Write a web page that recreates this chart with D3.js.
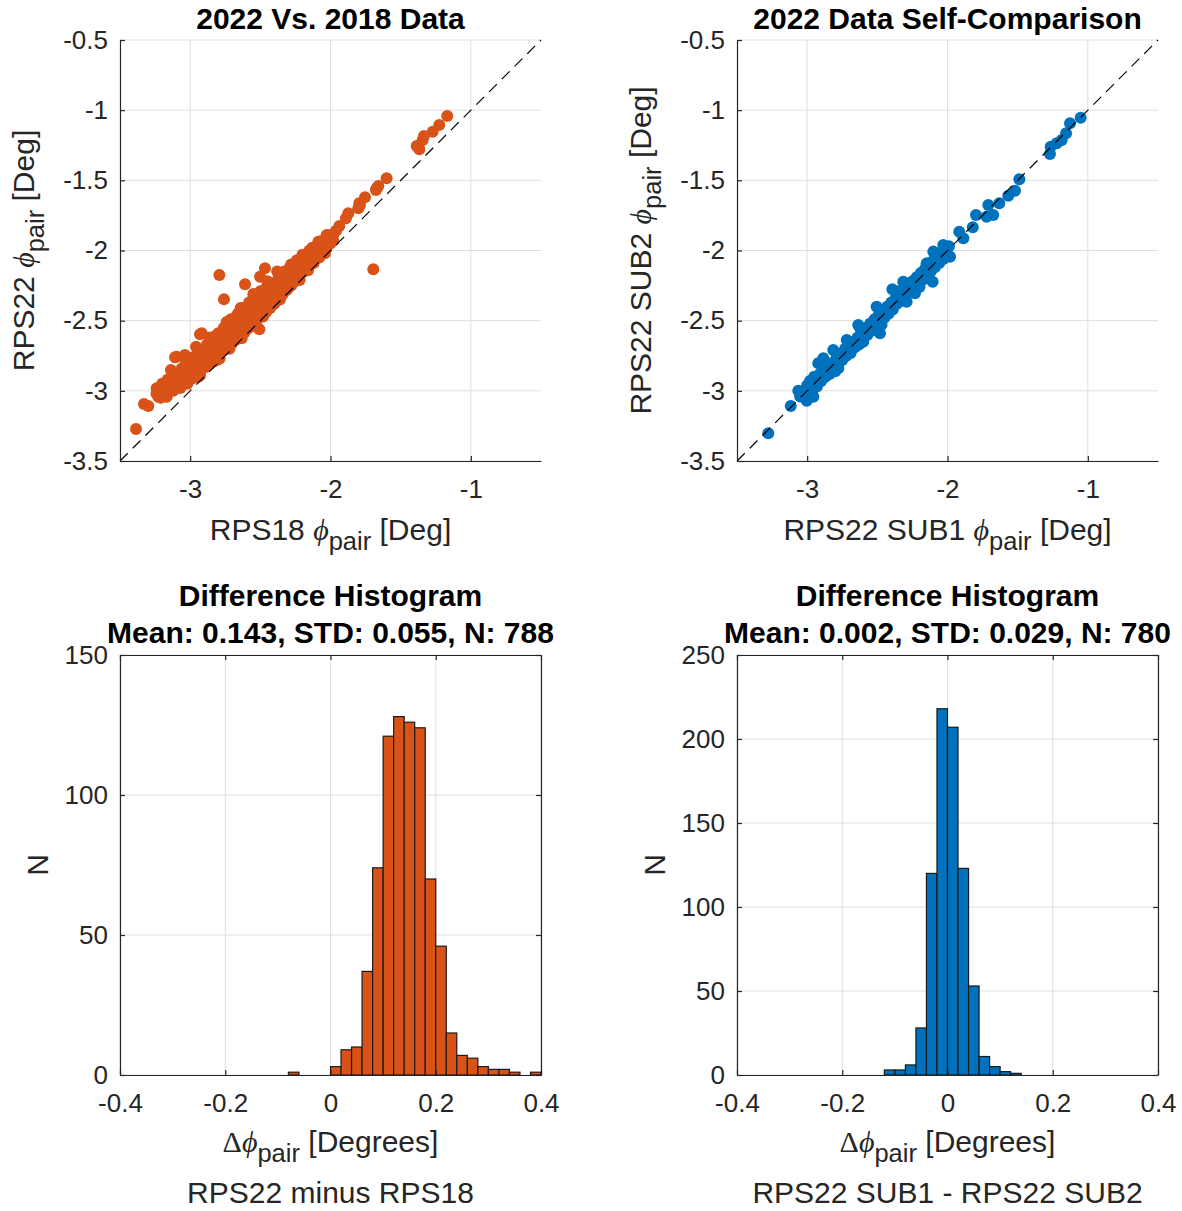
<!DOCTYPE html>
<html>
<head>
<meta charset="utf-8">
<script src="https://cdn.jsdelivr.net/npm/d3@7"></script>
<style>
  body { margin: 0; background: #fff; }
  svg text { font-family: "Liberation Sans", Arial, Helvetica, sans-serif; }
</style>
</head>
<body>
<svg id="fig" width="1182" height="1211"></svg>
<script>
// ---- data ----

// phase-angle axes (both scatter panels)
const phiDomain = [-3.5, -0.5];
const phiTicksX = [-3, -2, -1];
const phiTicksY = [-3.5, -3, -2.5, -2, -1.5, -1, -0.5];

// [RPS18 phi_pair, RPS22 phi_pair]
const rps18vs22 = [
  [-3.386,-3.272],[-3.329,-3.094],[-3.298,-3.108],[-3.239,-2.982],[-3.227,-3.042],[-3.167,-3.042],
  [-3.137,-2.852],[-3.108,-2.761],[-3.096,-2.757],[-3.049,-2.946],[-3.037,-2.745],[-2.958,-2.686],
  [-2.953,-2.899],[-2.942,-2.899],[-2.930,-2.597],[-2.918,-2.590],[-2.792,-2.175],[-2.759,-2.348],
  [-2.633,-2.626],[-2.609,-2.241],[-2.507,-2.562],[-2.467,-2.127],[-2.502,-2.187],
  [-3.24,-3.02],[-3.21,-3.05],[-3.19,-2.99],[-3.17,-3.04],[-3.15,-2.98],[-3.13,-2.93],[-3.12,-3.00],
  [-3.10,-2.96],[-3.08,-2.90],[-3.07,-2.98],[-3.05,-2.93],[-3.04,-2.87],[-3.02,-2.95],[-3.01,-2.84],
  [-3.00,-2.90],[-2.99,-2.86],[-2.97,-2.80],[-2.96,-2.88],[-2.95,-2.83],[-2.93,-2.77],[-2.92,-2.85],
  [-2.91,-2.80],[-2.90,-2.74],[-2.89,-2.83],[-2.88,-2.78],[-2.87,-2.72],[-2.86,-2.81],[-2.85,-2.76],
  [-2.84,-2.70],[-2.83,-2.79],[-2.82,-2.74],[-2.81,-2.66],[-2.80,-2.71],[-2.79,-2.77],[-2.78,-2.68],
  [-2.77,-2.62],[-2.76,-2.71],[-2.75,-2.65],[-2.74,-2.58],[-2.73,-2.68],[-2.72,-2.62],[-2.71,-2.55],
  [-2.70,-2.66],[-2.69,-2.60],[-2.68,-2.52],[-2.67,-2.63],[-2.66,-2.57],[-2.65,-2.50],[-2.64,-2.61],
  [-2.63,-2.54],[-2.62,-2.47],[-2.61,-2.58],[-2.60,-2.52],[-2.59,-2.45],[-2.58,-2.55],[-2.57,-2.49],
  [-2.56,-2.41],[-2.55,-2.52],[-2.54,-2.46],[-2.53,-2.38],[-2.52,-2.49],[-2.51,-2.43],[-2.50,-2.36],
  [-2.49,-2.46],[-2.48,-2.40],[-2.47,-2.33],[-2.46,-2.44],[-2.45,-2.37],[-2.44,-2.30],[-2.43,-2.41],
  [-2.42,-2.34],[-2.41,-2.28],[-2.40,-2.38],[-2.39,-2.32],[-2.38,-2.25],[-2.37,-2.35],[-2.36,-2.29],
  [-2.35,-2.22],[-2.34,-2.31],[-2.33,-2.25],[-2.32,-2.19],[-2.31,-2.28],[-2.30,-2.22],[-2.29,-2.16],
  [-2.28,-2.25],[-2.27,-2.19],[-2.26,-2.13],[-2.25,-2.22],[-2.24,-2.16],[-2.23,-2.10],[-2.22,-2.18],
  [-2.21,-2.12],[-2.20,-2.08],[-2.19,-2.15],[-2.18,-2.09],[-2.17,-2.04],[-2.16,-2.12],[-2.15,-2.06],
  [-2.14,-2.01],[-2.12,-2.09],[-2.11,-2.03],[-2.10,-1.99],[-2.08,-2.05],[-2.07,-2.00],[-2.05,-1.97],
  [-2.04,-2.02],[-2.02,-1.96],[-2.00,-1.95],
  [-2.96,-2.76],[-2.88,-2.67],[-2.80,-2.59],[-2.73,-2.52],[-2.66,-2.45],[-2.58,-2.37],[-2.50,-2.29],
  [-2.43,-2.23],[-2.36,-2.17],[-2.28,-2.10],[-2.20,-2.03],[-2.13,-1.98],
  [-2.98,-2.91],[-2.91,-2.76],[-2.83,-2.73],[-2.77,-2.66],[-2.69,-2.56],[-2.63,-2.50],[-2.57,-2.44],
  [-2.53,-2.43],[-2.47,-2.37],[-2.44,-2.34],[-2.39,-2.27],[-2.35,-2.25],[-2.31,-2.20],[-2.26,-2.17],
  [-2.21,-2.09],[-2.17,-2.08],
  [-3.20,-2.95],[-3.16,-2.92],[-3.11,-2.88],[-3.06,-2.84],[-3.03,-2.80],[-2.94,-2.72],[-2.86,-2.64],
  [-2.82,-2.61],[-2.76,-2.55],[-2.71,-2.49],[-2.67,-2.47],[-2.62,-2.41],[-2.55,-2.34],[-2.51,-2.32],
  [-2.46,-2.27],[-2.41,-2.24],[-2.37,-2.20],[-2.33,-2.15],[-2.29,-2.12],[-2.24,-2.07],[-2.18,-2.03],
  [-2.15,-2.00],[-2.09,-1.96],[-2.06,-1.93],[-2.03,-1.99],[-1.98,-1.93],[-1.96,-1.86],
  [-2.93,-2.89],[-2.81,-2.78],[-2.68,-2.64],[-2.54,-2.50],[-2.42,-2.39],[-2.30,-2.26],[-2.16,-2.14],
  [-2.98,-2.76],[-2.86,-2.62],[-2.74,-2.51],[-2.64,-2.41],[-2.55,-2.31],[-2.45,-2.22],[-2.38,-2.15],
  [-2.72,-2.70],[-2.48,-2.47],[-2.36,-2.35],[-2.22,-2.21],
  [-2.087,-1.937],[-2.039,-1.920],[-2.027,-1.890],[-2.016,-1.890],[-1.980,-1.890],[-1.937,-1.825],
  [-1.890,-1.771],[-1.873,-1.735],[-1.802,-1.699],[-1.795,-1.664],[-1.790,-1.676],[-1.754,-1.621],
  [-1.676,-1.569],[-1.671,-1.557],[-1.659,-1.540],[-1.600,-1.485],[-1.695,-2.134],
  [-1.386,-1.255],[-1.374,-1.260],[-1.367,-1.279],[-1.343,-1.213],[-1.334,-1.184],[-1.272,-1.153],
  [-1.225,-1.106],[-1.168,-1.042]
];

// [RPS22 SUB1 phi_pair, RPS22 SUB2 phi_pair]
const sub1vs2 = [
  [-3.277,-3.303],[-3.117,-3.108],[-3.063,-2.999],[-3.003,-3.070],[-2.956,-3.042],[-2.921,-2.804],
  [-2.885,-2.768],[-2.778,-2.839],[-2.814,-2.709],[-2.718,-2.638],[-2.636,-2.531],[-2.600,-2.650],
  [-2.505,-2.400],[-2.481,-2.590],[-2.393,-2.276],[-2.291,-2.365],[-2.232,-2.305],[-2.315,-2.222],
  [-2.106,-2.222],[-2.148,-2.091],[-2.101,-2.008],[-2.030,-1.961],[-1.982,-2.044],
  [-3.02,-3.00],[-3.00,-2.96],[-2.99,-3.03],[-2.97,-2.95],[-2.96,-2.99],[-2.94,-2.92],[-2.93,-2.97],
  [-2.91,-2.88],[-2.90,-2.93],[-2.88,-2.86],[-2.87,-2.90],[-2.85,-2.82],[-2.84,-2.88],[-2.82,-2.80],
  [-2.81,-2.84],[-2.79,-2.76],[-2.78,-2.81],[-2.76,-2.74],[-2.75,-2.78],[-2.73,-2.70],[-2.72,-2.75],
  [-2.70,-2.68],[-2.69,-2.73],[-2.67,-2.65],[-2.66,-2.69],[-2.64,-2.62],[-2.63,-2.67],[-2.61,-2.58],
  [-2.60,-2.63],[-2.58,-2.55],[-2.57,-2.60],[-2.55,-2.52],[-2.54,-2.57],[-2.52,-2.49],[-2.51,-2.54],
  [-2.49,-2.46],[-2.48,-2.51],[-2.46,-2.43],[-2.45,-2.48],[-2.43,-2.40],[-2.42,-2.45],[-2.40,-2.37],
  [-2.39,-2.42],[-2.37,-2.34],[-2.36,-2.38],[-2.34,-2.31],[-2.33,-2.36],[-2.31,-2.28],[-2.30,-2.33],
  [-2.28,-2.26],[-2.27,-2.30],[-2.25,-2.22],[-2.24,-2.27],[-2.22,-2.19],[-2.21,-2.24],[-2.19,-2.16],
  [-2.18,-2.21],[-2.16,-2.13],[-2.15,-2.18],[-2.13,-2.10],[-2.12,-2.15],[-2.10,-2.07],[-2.09,-2.12],
  [-2.07,-2.04],[-2.06,-2.09],[-2.04,-2.01],[-2.03,-2.06],[-2.01,-1.98],[-2.00,-2.03],
  [-2.95,-2.90],[-2.80,-2.86],[-2.62,-2.56],[-2.47,-2.53],[-2.35,-2.29],[-2.20,-2.26],[-2.08,-2.02],
  [-3.05,-3.04],[-2.98,-2.93],[-2.92,-2.94],[-2.86,-2.84],[-2.83,-2.85],[-2.77,-2.77],[-2.71,-2.71],
  [-2.65,-2.66],[-2.59,-2.57],[-2.53,-2.52],[-2.44,-2.44],[-2.38,-2.39],[-2.32,-2.31],[-2.26,-2.24],
  [-2.17,-2.18],[-2.11,-2.11],[-2.05,-2.05],[-1.99,-1.97],
  [-1.916,-1.866],[-1.887,-1.913],[-1.820,-1.835],[-1.797,-1.747],[-1.721,-1.759],[-1.674,-1.747],
  [-1.709,-1.676],[-1.631,-1.664],[-1.567,-1.610],[-1.519,-1.574],[-1.488,-1.493],
  [-1.270,-1.312],[-1.265,-1.260],[-1.222,-1.236],[-1.186,-1.213],[-1.155,-1.165],[-1.127,-1.094],
  [-1.051,-1.054]
];

// difference histograms (bin edges, counts)
const diffTicksX = [-0.4, -0.2, 0, 0.2, 0.4];
const binEdges18 = [-0.08,-0.06,-0.04,-0.02,0,0.02,0.04,0.06,0.08,0.10,0.12,0.14,0.16,
                    0.18,0.20,0.22,0.24,0.26,0.28,0.30,0.32,0.34,0.36,0.38,0.40];
const counts18 = [1,0,0,0,3,9,10,37,74,121,128,126,124,70,46,15,7,6,3,2,2,1,0,1];
const binEdgesSub = [-0.12,-0.10,-0.08,-0.06,-0.04,-0.02,0,0.02,0.04,0.06,0.08,0.10,0.12,0.14];
const countsSub = [3,3,6,28,120,218,207,123,53,11,5,2,1];
const nTicks18 = [0, 50, 100, 150];
const nTicksSub = [0, 50, 100, 150, 200, 250];

// ---- drawing ----
const ORANGE = "#D95319", BLUE = "#0072BD";
const AXIS = "#262626", GRID = "#dfdfdf";
const W = 421, H = 421, HH = 420;
const TICK_FS = 26, LABEL_FS = 30;

const svg = d3.select("#fig");

function richText(sel, parts, fs) {
  parts.forEach((p) => {
    const t = sel.append("tspan").text(p.t);
    if (p.it) t.attr("font-style", "italic").attr("font-family", "'Liberation Serif', 'DejaVu Serif', serif");
    if (p.sym) t.attr("font-family", "'Liberation Serif', 'DejaVu Serif', serif");
    if (p.sub) t.attr("dy", 10).attr("font-size", fs * 0.85);
    if (p.after) t.attr("dy", -10);
  });
}

function drawGrid(g, x, y, w, h, xt, yt) {
  const grid = g.append("g").attr("stroke", GRID).attr("stroke-width", 1);
  grid.selectAll("line.gx").data(xt).join("line").attr("class", "gx")
    .attr("x1", (d) => x(d)).attr("x2", (d) => x(d)).attr("y1", 0).attr("y2", h);
  grid.selectAll("line.gy").data(yt).join("line").attr("class", "gy")
    .attr("x1", 0).attr("x2", w).attr("y1", (d) => y(d)).attr("y2", (d) => y(d));
}

function drawAxes(g, x, y, w, h, xt, yt, box) {
  const fmt = (d) => String(d);
  const xAxis = d3.axisBottom(x).tickValues(xt).tickFormat(fmt)
    .tickSizeInner(-5).tickSizeOuter(0).tickPadding(19);
  const yAxis = d3.axisLeft(y).tickValues(yt).tickFormat(fmt)
    .tickSizeInner(-5).tickSizeOuter(0).tickPadding(12);

  const ax = g.append("g").attr("transform", `translate(0,${h})`).call(xAxis);
  const ay = g.append("g").call(yAxis);
  [ax, ay].forEach((a) => {
    a.select(".domain").attr("stroke", AXIS).attr("stroke-width", 1.2);
    a.selectAll(".tick line").attr("stroke", AXIS).attr("stroke-width", 1.2);
    a.selectAll(".tick text").attr("fill", AXIS).attr("font-size", TICK_FS)
      .attr("font-family", "'Liberation Sans', Arial, sans-serif");
  });

  if (box) {
    const top = g.append("g").call(d3.axisTop(x).tickValues(xt).tickFormat("")
      .tickSizeInner(-5).tickSizeOuter(0));
    const right = g.append("g").attr("transform", `translate(${w},0)`)
      .call(d3.axisRight(y).tickValues(yt).tickFormat("").tickSizeInner(-5).tickSizeOuter(0));
    [top, right].forEach((a) => {
      a.select(".domain").attr("stroke", AXIS).attr("stroke-width", 1.2);
      a.selectAll(".tick line").attr("stroke", AXIS).attr("stroke-width", 1.2);
    });
  }
}

function drawScatter(opt) {
  const g = svg.append("g").attr("transform", `translate(${opt.left},${opt.top})`);
  const x = d3.scaleLinear().domain(phiDomain).range([0, W]);
  const y = d3.scaleLinear().domain(phiDomain).range([H, 0]);

  drawGrid(g, x, y, W, H, phiTicksX, phiTicksY);

  g.append("g").selectAll("circle").data(opt.points).join("circle")
    .attr("cx", (d) => x(d[0])).attr("cy", (d) => y(d[1]))
    .attr("r", 6).attr("fill", opt.color);

  // 1:1 reference line
  g.append("line")
    .attr("x1", x(phiDomain[0])).attr("y1", y(phiDomain[0]))
    .attr("x2", x(phiDomain[1])).attr("y2", y(phiDomain[1]))
    .attr("stroke", "#000").attr("stroke-width", 1.2).attr("stroke-dasharray", "11,7");

  drawAxes(g, x, y, W, H, phiTicksX, phiTicksY, false);

  g.append("text").attr("x", W / 2).attr("y", -11).attr("text-anchor", "middle")
    .attr("font-size", LABEL_FS).attr("font-weight", "bold").attr("fill", "#000")
    .text(opt.title);

  const xl = g.append("text").attr("x", W / 2).attr("y", H + 79).attr("text-anchor", "middle")
    .attr("font-size", LABEL_FS).attr("fill", AXIS);
  richText(xl, [{ t: opt.xName + " " }, { t: "ϕ", it: true }, { t: "pair", sub: true },
    { t: " [Deg]", after: true }], LABEL_FS);

  const yl = g.append("text").attr("transform", `translate(${opt.yLabelX},${H / 2}) rotate(-90)`)
    .attr("text-anchor", "middle").attr("font-size", LABEL_FS).attr("fill", AXIS);
  richText(yl, [{ t: opt.yName + " " }, { t: "ϕ", it: true }, { t: "pair", sub: true },
    { t: " [Deg]", after: true }], LABEL_FS);
}

function drawHist(opt) {
  const g = svg.append("g").attr("transform", `translate(${opt.left},${opt.top})`);
  const x = d3.scaleLinear().domain([-0.4, 0.4]).range([0, W]);
  const y = d3.scaleLinear().domain([0, opt.yMax]).range([HH, 0]);

  drawGrid(g, x, y, W, HH, diffTicksX, opt.yTicks);

  const bins = opt.counts.map((c, i) => ({ x0: opt.edges[i], x1: opt.edges[i + 1], n: c }));
  g.append("g").selectAll("rect").data(bins).join("rect")
    .attr("x", (d) => x(d.x0)).attr("width", (d) => x(d.x1) - x(d.x0))
    .attr("y", (d) => y(d.n)).attr("height", (d) => HH - y(d.n))
    .attr("fill", opt.color).attr("stroke", "#1a1a1a").attr("stroke-width", 1.2);

  drawAxes(g, x, y, W, HH, diffTicksX, opt.yTicks, true);

  const t = g.append("text").attr("text-anchor", "middle").attr("font-size", LABEL_FS)
    .attr("font-weight", "bold").attr("fill", "#000");
  t.append("tspan").attr("x", W / 2).attr("y", -49).text("Difference Histogram");
  t.append("tspan").attr("x", W / 2).attr("y", -12).text(opt.stats);

  const xl = g.append("text").attr("x", W / 2).attr("y", HH + 77).attr("text-anchor", "middle")
    .attr("font-size", LABEL_FS).attr("fill", AXIS);
  richText(xl, [{ t: "Δ", sym: true }, { t: "ϕ", it: true }, { t: "pair", sub: true },
    { t: " [Degrees]", after: true }], LABEL_FS);

  g.append("text").attr("x", W / 2).attr("y", HH + 128).attr("text-anchor", "middle")
    .attr("font-size", LABEL_FS).attr("fill", AXIS).text(opt.caption);

  g.append("text").attr("transform", `translate(${opt.yLabelX},${HH / 2}) rotate(-90)`)
    .attr("text-anchor", "middle").attr("font-size", LABEL_FS).attr("fill", AXIS).text("N");
}

drawScatter({ left: 120, top: 40, points: rps18vs22, color: ORANGE,
  title: "2022 Vs. 2018 Data", xName: "RPS18", yName: "RPS22", yLabelX: -86 });
drawScatter({ left: 737, top: 40, points: sub1vs2, color: BLUE,
  title: "2022 Data Self-Comparison", xName: "RPS22 SUB1", yName: "RPS22 SUB2", yLabelX: -86 });

drawHist({ left: 120, top: 655, edges: binEdges18, counts: counts18, color: ORANGE,
  yMax: 150, yTicks: nTicks18, stats: "Mean: 0.143, STD: 0.055, N: 788",
  caption: "RPS22 minus RPS18", yLabelX: -72 });
drawHist({ left: 737, top: 655, edges: binEdgesSub, counts: countsSub, color: BLUE,
  yMax: 250, yTicks: nTicksSub, stats: "Mean: 0.002, STD: 0.029, N: 780",
  caption: "RPS22 SUB1 - RPS22 SUB2", yLabelX: -72 });
</script>
</body>
</html>
